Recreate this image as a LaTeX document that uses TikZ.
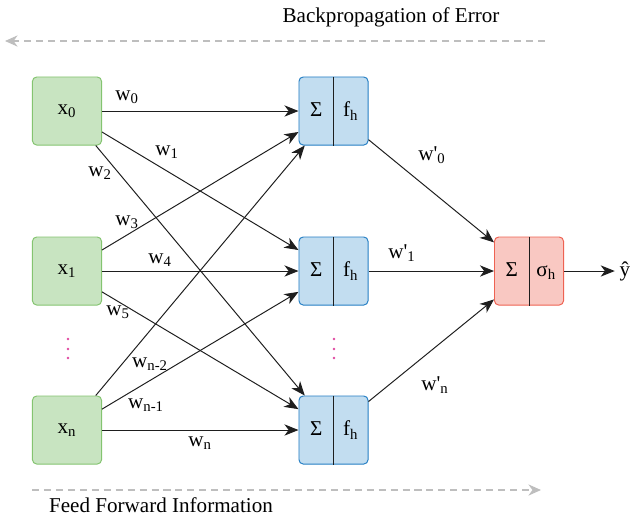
\documentclass[tikz,border=0pt]{standalone}
\usepackage{fontspec}
\setmainfont{Liberation Serif}
\usepackage{tikz}
\usetikzlibrary{
  arrows.meta,
  calc,
  positioning
}

\definecolor{infill}{RGB}{200,228,193}
\definecolor{inedge}{RGB}{132,196,112}
\definecolor{hidfill}{RGB}{194,221,240}
\definecolor{hidedge}{RGB}{36,126,196}
\definecolor{outfill}{RGB}{249,200,194}
\definecolor{outedge}{RGB}{238,98,82}
\definecolor{dotpink}{RGB}{224,72,160}
\definecolor{flowgray}{RGB}{190,190,190}
\definecolor{ink}{RGB}{30,30,30}

\tikzset{
  unit/.style={draw,rounded corners=3pt,minimum width=1.725cm,
    minimum height=1.7cm,inner sep=0pt,line width=0.7pt},
  innode/.style={unit,draw=inedge,fill=infill},
  hidnode/.style={unit,draw=hidedge,fill=hidfill},
  outnode/.style={unit,draw=outedge,fill=outfill},
  wire/.style={ink,line width=0.7pt,-{Stealth[length=10pt,width=8pt,inset=3pt]}},
  flow/.style={flowgray,line width=0.8pt,dash pattern=on 5pt off 3.5pt,
    -{Stealth[length=9pt,width=8pt]}}
}

% two equal halves of a summing unit
\newcommand{\halves}[2]{\makebox[0.86cm]{#1}\makebox[0.86cm]{#2}}

\begin{document}
\begin{tikzpicture}[x=0.025cm,y=-0.025cm,font=\fontsize{15pt}{18pt}\selectfont]
  \useasboundingbox (0,0) rectangle (632,516);

  % inputs
  \node[innode] (x0) at (67,111) {x\textsubscript{0}};
  \node[innode] (x1) at (67,271) {x\textsubscript{1}};
  \node[innode] (xn) at (67,430) {x\textsubscript{n}};

  % hidden layer
  \node[hidnode] (h0) at (333.5,111) {\halves{Σ}{f\textsubscript{h}}};
  \node[hidnode] (h1) at (333.5,271) {\halves{Σ}{f\textsubscript{h}}};
  \node[hidnode] (hn) at (333.5,430) {\halves{Σ}{f\textsubscript{h}}};

  % output unit
  \node[outnode] (out) at (529,271) {\halves{Σ}{σ\textsubscript{h}}};
  \node (yhat) at (625,271) {ŷ};

  \foreach \n in {h0,h1,hn,out}
    \draw[ink,line width=0.7pt] (\n.north) -- (\n.south);

  \foreach \u/\v in {x0/h0,x0/h1,x0/hn,x1/h0,x1/h1,x1/hn,xn/h0,xn/h1,xn/hn,
                     h0/out,h1/out,hn/out}
    \draw[wire] (\u) -- (\v);
  \draw[wire] (out) -- (yhat);

  % weights
  \node (lw0) at (127,97)  {w\textsubscript{0}};
  \node (lw1) at (167,152) {w\textsubscript{1}};
  \node (lw2) at (100,173) {w\textsubscript{2}};
  \node (lw3) at (127,222) {w\textsubscript{3}};
  \node (lw4) at (160,260) {w\textsubscript{4}};
  \node (lw5) at (118,312) {w\textsubscript{5}};
  \node (lwa) at (150,364) {w\textsubscript{n-2}};
  \node (lwb) at (146,405) {w\textsubscript{n-1}};
  \node (lwn) at (200,443) {w\textsubscript{n}};
  \node (lv0) at (432,155) {w\textquotesingle\textsubscript{0}};
  \node (lv1) at (402,253) {w\textquotesingle\textsubscript{1}};
  \node (lvn) at (435,385) {w\textquotesingle\textsubscript{n}};

  % ellipses
  \foreach \y in {339,349,358} {
    \fill[dotpink] (68,\y) circle (1pt);
    \fill[dotpink] (334,\y) circle (1pt);
  }

  % direction of the two passes
  \coordinate (bpS) at (545,41);
  \coordinate (bpE) at (5,41);
  \draw[flow] (bpS) -- (bpE);
  \node (bplabel) at (391,17) {Backpropagation of Error};

  \coordinate (ffS) at (32,490);
  \coordinate (ffE) at (541,490);
  \draw[flow] (ffS) -- (ffE);
  \node[inner sep=1pt] (fflabel) at (161,505) {Feed Forward Information};
\end{tikzpicture}
\end{document}
